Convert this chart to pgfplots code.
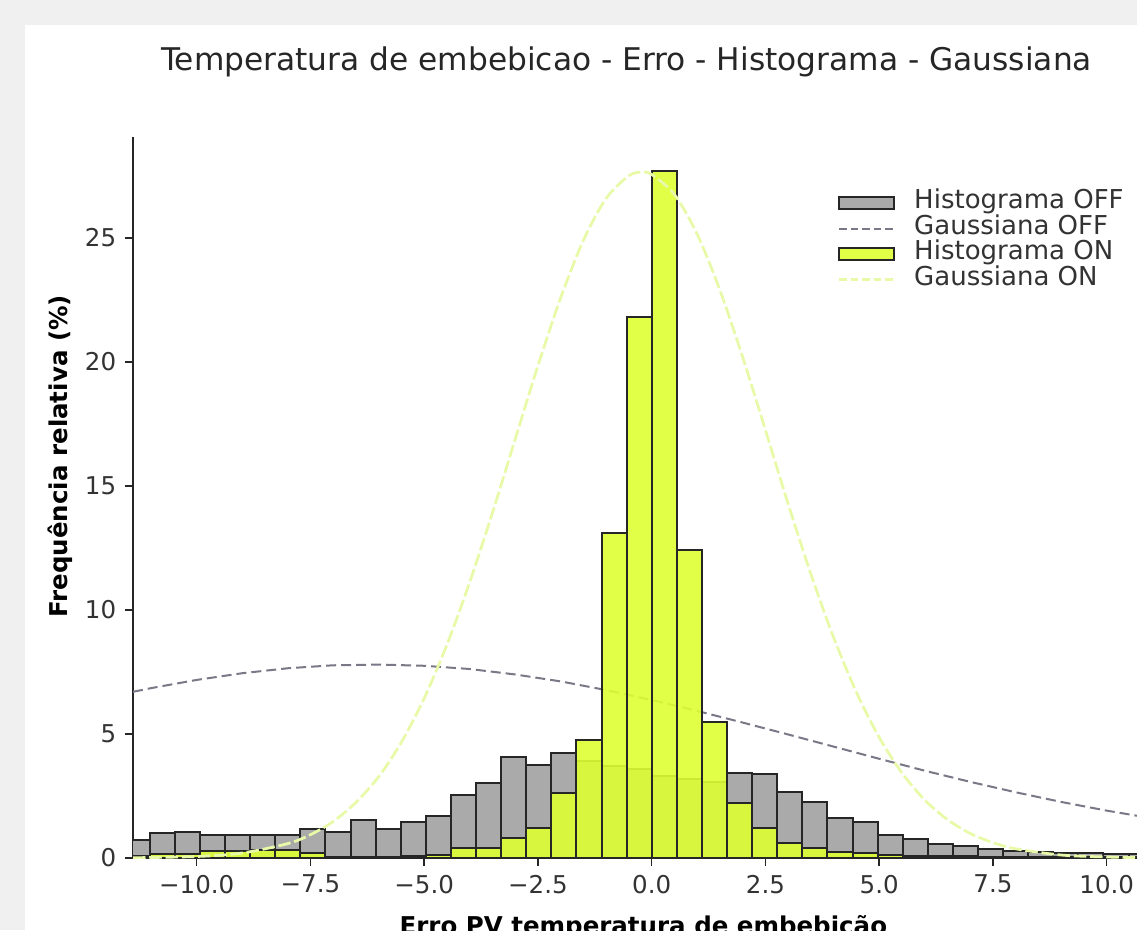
\documentclass[border=0pt]{standalone}
\usepackage{pgfplots}
\pgfplotsset{compat=1.18}
\usepackage{fontspec}
\setmainfont{DejaVu Sans}
\definecolor{bggray}{RGB}{240,240,240}
\definecolor{histoff}{RGB}{170,170,170}
\definecolor{histon}{RGB}{222,255,50}
\definecolor{gaussoff}{RGB}{120,120,135}
\definecolor{gausson}{RGB}{232,250,168}
\begin{document}
\begin{tikzpicture}
\fill[bggray] (0pt,0pt) rectangle (454.8pt,372pt);
\fill[white] (10pt,0pt) rectangle (454.8pt,362pt);
\path[use as bounding box] (0pt,0pt) rectangle (454.8pt,372pt);
\begin{axis}[
  at={(53.2pt,28.8pt)}, anchor=south west,
  scale only axis, width=405.86pt, height=288.5pt,
  xmin=-11.40, xmax=10.9, ymin=0, ymax=29.08,
  axis x line*=bottom, axis y line*=left,
  axis line style={-, line width=0.7pt, color=black!85},
  xtick={-10,-7.5,-5,-2.5,0,2.5,5,7.5,10},
  xticklabels={−10.0,−7.5,−5.0,−2.5,0.0,2.5,5.0,7.5,10.0},
  ytick={0,5,10,15,20,25},
  yticklabels={0,5,10,15,20,25},
  tick align=outside, major tick length=3.2pt,
  tick style={line width=0.6pt, color=black!85},
  ticklabel style={font=\fontsize{9.8}{11}\selectfont, text=black!80},
  title={Temperatura de embebicao - Erro - Histograma - Gaussiana},
  title style={font=\fontsize{12.5}{14}\selectfont, at={(axis description cs:0.4864,1.0704)}, anchor=base, inner sep=0pt, text=black!85},
  xlabel={\textbf{Erro PV temperatura de embebicão}},
  xlabel style={font=\fontsize{9.8}{11}\selectfont, at={(axis description cs:0.503,-0.1054)}, anchor=base, inner sep=0pt, text=black},
  ylabel={\textbf{Frequência relativa (\%)}},
  ylabel style={font=\fontsize{9.8}{11}\selectfont, at={(axis description cs:-0.072,0.557)}, anchor=center, inner sep=0pt, text=black},
  legend cell align=left,
  legend style={
    at={(axis description cs:0.6948,0.9244)}, anchor=north west,
    draw=none, fill=none, inner sep=0pt, outer sep=0pt,
    row sep=0.8pt, column sep=7.4pt,
    nodes={inner sep=0pt, text height=7pt, text depth=2.4pt, font=\fontsize{10.4}{12}\selectfont, text=black!80},
  },
]
\addplot[ybar interval, fill=histoff, draw=black!85, line width=0.8pt,
  legend image code/.code={\draw[fill=histoff, draw=black!85, line width=0.8pt] (0pt,-2.5pt) rectangle (22pt,2.5pt);}]
coordinates {
(-11.584,0.73) (-11.032,1.00) (-10.480,1.03) (-9.929,0.93) (-9.377,0.93) (-8.826,0.93)
(-8.274,0.93) (-7.722,1.18) (-7.171,1.06) (-6.619,1.55) (-6.068,1.16) (-5.516,1.46)
(-4.964,1.69) (-4.413,2.54) (-3.861,3.01) (-3.310,4.06) (-2.758,3.75) (-2.206,4.22)
(-1.655,3.90) (-1.103,3.70) (-0.552,3.60) (0,3.30) (0.552,3.20) (1.103,3.05)
(1.655,3.41) (2.206,3.39) (2.758,2.67) (3.310,2.27) (3.861,1.60) (4.413,1.46)
(4.964,0.93) (5.516,0.77) (6.068,0.55) (6.619,0.47) (7.171,0.35) (7.722,0.27)
(8.274,0.25) (8.826,0.22) (9.377,0.20) (9.929,0.18) (10.480,0.18) (11.032,0.18) (11.584,0)
};
\addlegendentry{Histograma OFF}
\addplot[sharp plot, no marks, color=gaussoff, line width=0.8pt, dash pattern=on 4pt off 2pt,
  legend image code/.code={\draw[color=gaussoff, line width=0.8pt, dash pattern=on 3pt off 1.6pt] (0pt,0pt) -- (22pt,0pt);}]
coordinates {
(-11.40,6.70) (-11,6.85) (-10,7.18) (-9,7.45) (-8,7.65) (-7,7.77) (-6,7.80) (-5,7.75)
(-4,7.62) (-3,7.40) (-2,7.12) (-1,6.77) (0,6.37) (1,5.93) (2,5.46) (3,4.98) (4,4.49)
(5,4.00) (6,3.52) (7,3.07) (8,2.65) (9,2.26) (10,1.91) (11,1.60) (11.5,1.45)
};
\addlegendentry{Gaussiana OFF}
\addplot[ybar interval, fill=histon, fill opacity=0.9, draw=black!85, line width=0.8pt,
  legend image code/.code={\draw[fill=histon, draw=black!85, line width=0.8pt] (0pt,-2.5pt) rectangle (22pt,2.5pt);}]
coordinates {
(-11.584,0.10) (-11.032,0.15) (-10.480,0.15) (-9.929,0.28) (-9.377,0.30) (-8.826,0.32)
(-8.274,0.32) (-7.722,0.22) (-7.171,0.05) (-6.619,0.05) (-6.068,0.05) (-5.516,0.08)
(-4.964,0.12) (-4.413,0.39) (-3.861,0.39) (-3.310,0.82) (-2.758,1.22) (-2.206,2.63)
(-1.655,4.76) (-1.103,13.1) (-0.552,21.8) (0,27.7) (0.552,12.42) (1.103,5.5)
(1.655,2.2) (2.206,1.2) (2.758,0.59) (3.310,0.39) (3.861,0.25) (4.413,0.20)
(4.964,0.12) (5.516,0.10) (6.068,0.08) (6.619,0.08) (7.171,0.06) (7.722,0.06)
(8.274,0.05) (8.826,0.05) (9.377,0.05) (9.929,0.05) (10.480,0.05) (11.032,0.05) (11.584,0)
};
\addlegendentry{Histograma ON}
\addplot[smooth, no marks, color=gausson, line width=1.1pt, dash pattern=on 5pt off 1.5pt,
  legend image code/.code={\draw[color=gausson, line width=1.1pt, dash pattern=on 3pt off 1.6pt] (0pt,0pt) -- (22pt,0pt);}]
coordinates {
(-11.40,0.01) (-10,0.06) (-9,0.20) (-8,0.58) (-7.5,0.94) (-7,1.47) (-6.5,2.24) (-6,3.28)
(-5.5,4.67) (-5,6.44) (-4.5,8.60) (-4,11.12) (-3.5,13.92) (-3,16.89) (-2.5,19.85)
(-2,22.59) (-1.5,24.91) (-1,26.60) (-0.5,27.51) (-0.22,27.65) (0,27.56) (0.5,26.75)
(1,25.15) (1.5,22.89) (2,20.19) (2.5,17.25) (3,14.27) (3.5,11.44) (4,8.88) (4.5,6.68)
(5,4.86) (5.5,3.43) (6,2.34) (6.5,1.55) (7,0.99) (7.5,0.62) (8,0.37) (9,0.12) (10,0.04)
(11,0.01) (11.5,0.00)
};
\addlegendentry{Gaussiana ON}
\end{axis}
\end{tikzpicture}
\end{document}
